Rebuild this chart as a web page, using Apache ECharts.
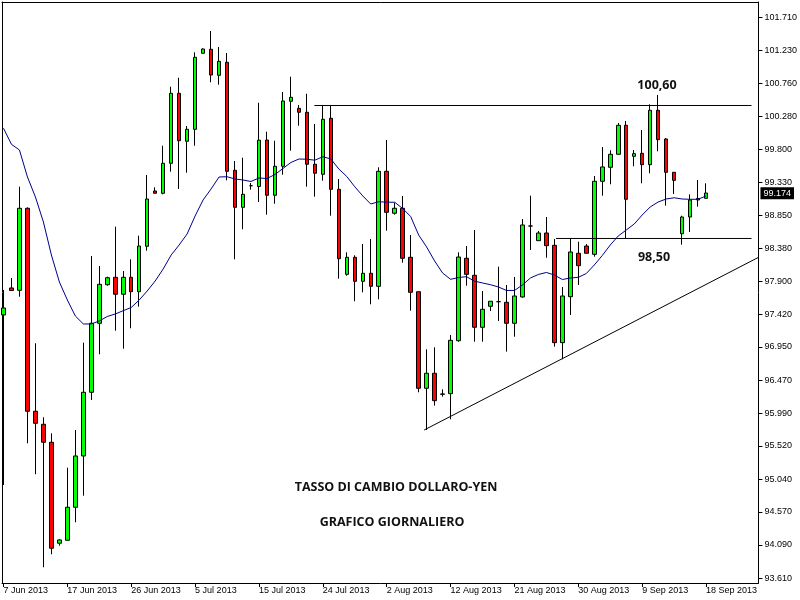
<!DOCTYPE html>
<html><head><meta charset="utf-8">
<script src="https://cdn.jsdelivr.net/npm/echarts@6/dist/echarts.min.js"></script>
<style>html,body{margin:0;padding:0;background:#fff}#c{width:800px;height:600px}</style>
</head><body><div id="c"></div>
<script>
// Daily bars (incl. Sunday sessions), 7 Jun 2013 - 18 Sep 2013
const dates = ['7 Jun 2013','9 Jun 2013','10 Jun 2013','11 Jun 2013','12 Jun 2013','13 Jun 2013','14 Jun 2013','16 Jun 2013','17 Jun 2013','18 Jun 2013',
'19 Jun 2013','20 Jun 2013','21 Jun 2013','23 Jun 2013','24 Jun 2013','25 Jun 2013','26 Jun 2013','27 Jun 2013','28 Jun 2013','30 Jun 2013',
'1 Jul 2013','2 Jul 2013','3 Jul 2013','4 Jul 2013','5 Jul 2013','7 Jul 2013','8 Jul 2013','9 Jul 2013','10 Jul 2013','11 Jul 2013',
'12 Jul 2013','14 Jul 2013','15 Jul 2013','16 Jul 2013','17 Jul 2013','18 Jul 2013','19 Jul 2013','21 Jul 2013','22 Jul 2013','23 Jul 2013',
'24 Jul 2013','25 Jul 2013','26 Jul 2013','28 Jul 2013','29 Jul 2013','30 Jul 2013','31 Jul 2013','1 Aug 2013','2 Aug 2013','4 Aug 2013',
'5 Aug 2013','6 Aug 2013','7 Aug 2013','8 Aug 2013','9 Aug 2013','11 Aug 2013','12 Aug 2013','13 Aug 2013','14 Aug 2013','15 Aug 2013',
'16 Aug 2013','18 Aug 2013','19 Aug 2013','20 Aug 2013','21 Aug 2013','22 Aug 2013','23 Aug 2013','25 Aug 2013','26 Aug 2013','27 Aug 2013',
'28 Aug 2013','29 Aug 2013','30 Aug 2013','1 Sep 2013','2 Sep 2013','3 Sep 2013','4 Sep 2013','5 Sep 2013','6 Sep 2013','8 Sep 2013',
'9 Sep 2013','10 Sep 2013','11 Sep 2013','12 Sep 2013','13 Sep 2013','15 Sep 2013','16 Sep 2013','17 Sep 2013','18 Sep 2013'];

const opens = [97.413,97.803,97.769,98.954,96.022,95.834,95.574,94.115,94.158,94.635,
95.376,96.296,97.293,97.850,97.957,97.712,97.957,97.749,98.405,99.204,
99.171,99.604,100.615,99.922,100.095,101.193,101.251,100.875,101.063,99.503,
98.968,99.280,99.269,99.940,99.142,99.561,100.500,100.398,100.341,99.590,
99.445,100.254,99.228,98.000,98.246,97.899,98.015,97.827,99.488,98.882,
98.954,98.246,97.749,96.354,96.571,96.272,96.276,97.041,98.232,97.986,
97.235,97.538,97.605,97.596,97.293,97.673,98.698,98.486,98.597,98.419,
97.013,97.677,98.304,98.409,98.289,99.344,99.546,99.734,100.153,99.705,
99.748,99.584,100.370,99.955,99.474,98.587,98.828,99.074,99.098];

const closes = [97.514,97.767,98.954,96.022,95.848,95.574,94.043,94.163,94.635,95.376,
96.296,97.293,97.856,97.951,97.712,97.957,97.749,98.409,99.088,99.171,
99.604,100.615,99.930,100.095,101.135,101.255,100.879,101.077,99.488,98.968,
99.156,99.280,99.938,99.142,99.561,100.504,100.557,100.341,99.590,99.460,
100.240,99.228,98.226,98.246,97.899,98.015,97.827,99.488,98.896,98.954,
98.232,97.740,96.354,96.571,96.175,96.267,97.047,98.250,98.000,97.235,
97.495,97.611,97.605,97.293,97.687,98.713,98.698,98.597,98.414,97.013,
97.687,98.323,98.125,98.304,99.344,99.551,99.734,100.153,99.084,99.743,
99.584,100.370,99.945,99.474,99.358,98.828,99.074,99.096,99.174];

const lows = [94.957,97.764,97.677,95.559,95.112,93.768,93.956,94.080,94.158,94.418,
94.802,96.185,96.845,97.836,97.186,96.926,97.221,97.533,98.341,99.171,
99.156,99.483,99.233,99.468,99.858,101.193,100.774,100.739,99.358,98.217,
98.651,99.223,99.045,98.862,99.020,99.439,99.786,100.147,99.266,99.122,
99.353,98.847,97.937,97.980,97.611,97.740,97.567,97.639,98.630,98.862,
98.168,97.475,96.296,95.751,96.103,96.233,95.906,97.027,97.836,97.027,
97.027,97.470,97.326,96.883,97.099,97.662,98.352,98.486,98.240,96.955,
96.773,97.413,97.846,98.304,98.255,99.136,99.301,99.734,98.521,99.561,
99.315,99.460,99.777,98.992,99.160,98.428,98.612,98.977,99.098];

const highs = [97.774,97.947,99.266,98.968,97.004,95.935,95.704,94.173,95.207,95.751,
97.013,98.265,98.120,97.966,98.688,98.048,98.217,98.558,99.435,99.257,
99.858,100.710,100.840,100.143,101.207,101.265,101.515,101.284,101.197,99.637,
99.685,99.319,100.478,100.060,99.930,100.634,100.855,100.446,100.609,100.172,
100.446,100.436,99.377,98.318,98.275,98.438,98.510,99.546,99.940,99.035,
99.132,98.568,97.749,96.917,96.946,96.339,97.124,98.318,98.409,98.640,
97.759,97.611,98.110,97.846,97.962,98.799,99.136,98.626,98.828,98.510,
97.817,98.510,98.471,98.438,99.421,99.839,99.792,100.186,100.215,99.796,
100.085,100.456,100.591,99.969,99.474,98.847,99.156,99.363,99.315];

// moving average
const ma = [100.110,99.878,99.796,99.406,99.117,98.756,98.279,97.889,97.629,97.398,
97.283,97.283,97.326,97.391,97.427,97.475,97.521,97.629,97.759,97.904,
98.077,98.279,98.424,98.583,98.843,99.074,99.233,99.406,99.410,99.377,
99.363,99.341,99.392,99.384,99.442,99.529,99.616,99.666,99.662,99.649,
99.699,99.666,99.522,99.413,99.265,99.132,99.016,99.049,99.042,99.041,
98.951,98.835,98.568,98.395,98.193,98.019,97.928,97.954,97.966,97.901,
97.875,97.850,97.817,97.767,97.767,97.846,97.947,97.998,98.027,97.990,
97.925,97.947,97.957,98.012,98.135,98.272,98.424,98.554,98.640,98.727,
98.857,98.973,99.045,99.088,99.106,99.088,99.084,99.084,99.132];

const yTickValues = [101.71,101.23,100.76,100.28,99.80,99.33,98.85,98.38,97.90,97.42,96.95,96.47,95.99,95.52,95.04,94.57,94.09,93.61];
const xTickLabels = ['7 Jun 2013','17 Jun 2013','26 Jun 2013','5 Jul 2013','15 Jul 2013','24 Jul 2013','2 Aug 2013','12 Aug 2013','21 Aug 2013','30 Aug 2013','9 Sep 2013','18 Sep 2013'];

// drawn objects: [bar index, price]
const resistanceLine = [[38.94, 100.439],[93.69, 100.439]];
const supportLine = [[69.2, 98.518],[93.69, 98.518]];
const trendLine = [[52.69, 95.751],[94.56, 98.245]];
const resistanceText = '100,60';
const supportText = '98,50';
const titleLines = ['TASSO DI CAMBIO DOLLARO-YEN','GRAFICO GIORNALIERO'];

const X_MIN = -0.1875, X_MAX = 94.5625, Y_MIN = 93.541, Y_MAX = 101.934;
const FONT = 'Liberation Sans, Arial, sans-serif';
const NOTE_FONT = '"Open Sans", sans-serif';

const candleData = dates.map((d,i)=>[i, opens[i], closes[i], lows[i], highs[i]]);
const maData = ma.map((v,i)=>[i, v]);
const xTickIdx = xTickLabels.map(l => dates.indexOf(l));
const lastClose = closes[closes.length-1];

const chart = echarts.init(document.getElementById('c'), null, {renderer:'canvas'});
const lineSeries = (data) => ({type:'line', data, symbol:'none', silent:true, animation:false,
  lineStyle:{color:'#000', width:1}, z:3});
const note = (x, y, text, size) => ({type:'text', style:{x, y, text, textAlign:'center', textVerticalAlign:'middle',
  fontFamily:NOTE_FONT, fontWeight:'bold', fontSize:size, fill:'#111'}});

chart.setOption({
  animation:false,
  backgroundColor:'#fff',
  grid:{left:2, top:2, right:40, bottom:17, containLabel:false},
  xAxis:[{
    type:'value', min:X_MIN, max:X_MAX,
    axisLine:{show:true, onZero:false, lineStyle:{color:'#000', width:1}},
    axisTick:{show:true, length:4, customValues:xTickIdx, lineStyle:{color:'#000'}},
    axisLabel:{show:true, customValues:xTickIdx, formatter:v=>dates[v], align:'left', margin:3,
      color:'#000', fontFamily:FONT, fontSize:9},
    splitLine:{show:false}
  },{
    type:'value', position:'top', min:X_MIN, max:X_MAX,
    axisLine:{show:true, onZero:false, lineStyle:{color:'#000', width:1}},
    axisTick:{show:false}, axisLabel:{show:false}, splitLine:{show:false}
  }],
  yAxis:[{
    type:'value', position:'right', min:Y_MIN, max:Y_MAX,
    axisLine:{show:true, onZero:false, lineStyle:{color:'#000', width:1}},
    axisTick:{show:true, length:4, customValues:yTickValues, lineStyle:{color:'#000'}},
    axisLabel:{show:true, customValues:yTickValues, formatter:v=>v.toFixed(3), margin:6,
      color:'#000', fontFamily:FONT, fontSize:9},
    splitLine:{show:false}
  },{
    type:'value', position:'left', min:Y_MIN, max:Y_MAX,
    axisLine:{show:true, onZero:false, lineStyle:{color:'#000', width:1}},
    axisTick:{show:false}, axisLabel:{show:false}, splitLine:{show:false}
  }],
  series:[
    {
      type:'candlestick', data:candleData, barWidth:4, silent:true, z:2,
      itemStyle:{color:'#00ff00', color0:'#ff0000', borderColor:'#000', borderColor0:'#000',
        borderColorDoji:'#000', borderWidth:1},
      markLine:{
        silent:true, symbol:['none','none'], animation:false,
        lineStyle:{color:'rgba(0,0,0,0)', width:1},
        data:[{yAxis:lastClose}],
        label:{show:true, position:'end', formatter:lastClose.toFixed(3), distance:2,
          backgroundColor:'#000', color:'#fff', padding:[2,3,1,3], fontFamily:FONT, fontSize:9}
      }
    },
    {type:'line', data:maData, symbol:'none', silent:true, animation:false,
      lineStyle:{color:'#00008b', width:1}, z:4},
    lineSeries(resistanceLine),
    lineSeries(supportLine),
    lineSeries(trendLine)
  ],
  graphic:[
    note(657, 85, resistanceText, 12.5),
    note(654, 257, supportText, 12.5),
    note(396, 487, titleLines[0], 12.5),
    note(392, 522, titleLines[1], 12.5)
  ]
});
</script></body></html>
